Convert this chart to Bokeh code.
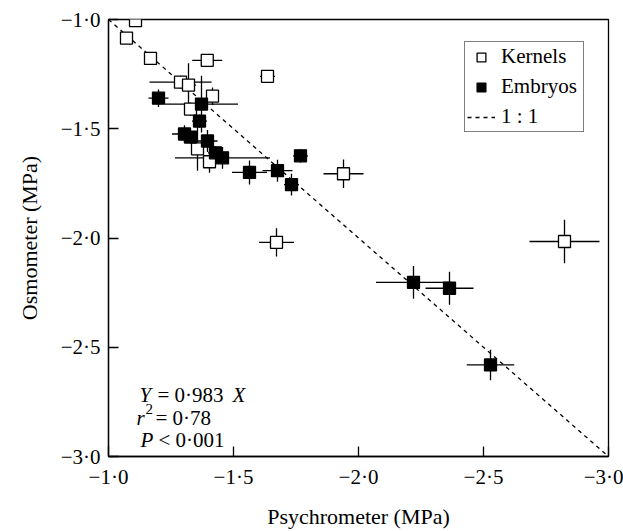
import numpy as np
from bokeh.plotting import figure
from bokeh.models import (ColumnDataSource, FixedTicker, CustomJSTickFormatter,
                          Legend, LegendItem, Label, Range1d)
from bokeh.embed import file_html
from bokeh.resources import INLINE

# ---- data (MPa) ----
kern_x = [-1.108, -1.072, -1.168, -1.395, -1.288, -1.320, -1.636, -1.416, -1.328,
          -1.356, -1.404, -1.940, -1.672, -2.824]
kern_y = [-1.005, -1.085, -1.178, -1.187, -1.287, -1.300, -1.260, -1.351, -1.410,
          -1.592, -1.651, -1.706, -2.020, -2.016]
kern_xerr = [0.0, 0.0, 0.0, 0.06, 0.124, 0.03, 0.03, 0.02, 0.02, 0.02, 0.02, 0.08, 0.07, 0.14]
kern_yerr = [0.0, 0.0, 0.0, 0.0, 0.03, 0.10, 0.0, 0.04, 0.03, 0.10, 0.05, 0.065, 0.065, 0.10]

emb_x = [-1.200, -1.372, -1.364, -1.304, -1.328, -1.396, -1.428, -1.456, -1.564,
         -1.676, -1.732, -1.768, -2.220, -2.364, -2.528]
emb_y = [-1.360, -1.387, -1.465, -1.524, -1.538, -1.556, -1.610, -1.633, -1.700,
         -1.692, -1.756, -1.624, -2.203, -2.230, -2.581]
emb_xerr = [0.04, 0.146, 0.03, 0.05, 0.03, 0.04, 0.03, 0.19, 0.07, 0.06, 0.03, 0.03,
            0.15, 0.096, 0.095]
emb_yerr = [0.04, 0.13, 0.03, 0.04, 0.03, 0.05, 0.03, 0.05, 0.055, 0.05, 0.05, 0.03,
            0.075, 0.075, 0.07]

one_to_one = [-1.0, -3.0]
ticks = [-1.0, -1.5, -2.0, -2.5, -3.0]

FONT = "Liberation Serif"

p = figure(width=623, height=531, x_range=Range1d(-1.0, -3.0), y_range=Range1d(-3.0, -1.0),
           output_backend="svg", toolbar_location=None,
           min_border_left=108, min_border_right=15, min_border_top=19, min_border_bottom=73)
p.background_fill_color = "white"
p.border_fill_color = "white"
p.grid.visible = False
p.outline_line_color = "black"
p.outline_line_width = 1.3

fmt = CustomJSTickFormatter(code="""
return (tick < 0 ? '\u2212' : '') + Math.abs(tick).toFixed(1).replace('.', '\u00b7');
""")
for ax in (p.xaxis[0], p.yaxis[0]):
    ax.ticker = FixedTicker(ticks=ticks)
    ax.formatter = fmt
    ax.major_tick_in = 10
    ax.major_tick_out = 0
    ax.minor_tick_line_color = None
    ax.axis_line_color = "black"
    ax.axis_line_width = 1.3
    ax.major_tick_line_width = 1.3
    ax.major_label_text_font = FONT
    ax.major_label_text_font_size = "21px"
    ax.major_label_text_color = "black"
    ax.axis_label_text_font = FONT
    ax.axis_label_text_font_size = "22px"
    ax.axis_label_text_font_style = "normal"
    ax.axis_label_text_color = "black"
    ax.major_label_standoff = 8

p.xaxis.axis_label = "Psychrometer (MPa)"
p.yaxis.axis_label = "Osmometer (MPa)"
p.xaxis.axis_label_standoff = 12
p.yaxis.axis_label_standoff = 16

# 1:1 line
line_r = p.line(one_to_one, one_to_one, line_color="black", line_width=1.3, line_dash="4 4")

# error bars
def errsegs(x, y, xe, ye):
    x = np.array(x); y = np.array(y); xe = np.array(xe); ye = np.array(ye)
    hx0, hx1, hy = x - xe, x + xe, y
    vx, vy0, vy1 = x, y - ye, y + ye
    return (np.concatenate([hx0, vx]), np.concatenate([hy, vy0]),
            np.concatenate([hx1, vx]), np.concatenate([hy, vy1]))

for xs, ys, xe, ye in ((kern_x, kern_y, kern_xerr, kern_yerr), (emb_x, emb_y, emb_xerr, emb_yerr)):
    x0, y0, x1, y1 = errsegs(xs, ys, xe, ye)
    p.segment(x0=x0, y0=y0, x1=x1, y1=y1, line_color="black", line_width=1.3)

kern_src = ColumnDataSource(dict(x=kern_x, y=kern_y))
emb_src = ColumnDataSource(dict(x=emb_x, y=emb_y))
kern_r = p.scatter("x", "y", source=kern_src, marker="square", size=12,
                   fill_color="white", line_color="black", line_width=1.3)
emb_r = p.scatter("x", "y", source=emb_src, marker="square", size=12,
                  fill_color="black", line_color="black", line_width=1.3)

legend = Legend(items=[LegendItem(label="Kernels", renderers=[kern_r]),
                       LegendItem(label="Embryos", renderers=[emb_r]),
                       LegendItem(label="1 : 1", renderers=[line_r])],
                location=(356, 324))
legend.label_text_font = FONT
legend.label_text_font_size = "21px"
legend.label_text_color = "black"
legend.glyph_height = 22
legend.glyph_width = 28
legend.label_height = 22
legend.label_width = 80
legend.spacing = 5
legend.padding = 2
legend.margin = 0
legend.label_standoff = 6
legend.border_line_color = "black"
legend.border_line_width = 1.3
legend.background_fill_color = "white"
legend.background_fill_alpha = 1.0
p.add_layout(legend)

# regression annotation (screen units, relative to frame bottom-left)
def lab(text, x, y, style="normal", size="21px"):
    p.add_layout(Label(x=x, y=y, x_units="screen", y_units="screen", text=text,
                       text_font=FONT, text_font_size=size, text_font_style=style,
                       text_color="black", text_baseline="alphabetic"))

lab("Y", 31, 62, "italic")
lab("= 0\u00b7983", 49, 62)
lab("X", 124, 62, "italic")
lab("r", 28, 39, "italic")
lab("2", 37, 48, "normal", "15px")
lab("= 0\u00b778", 47, 39)
lab("P", 32, 17, "italic")
lab("< 0\u00b7001", 50, 17)

open("out.html", "w").write(file_html(p, INLINE))
